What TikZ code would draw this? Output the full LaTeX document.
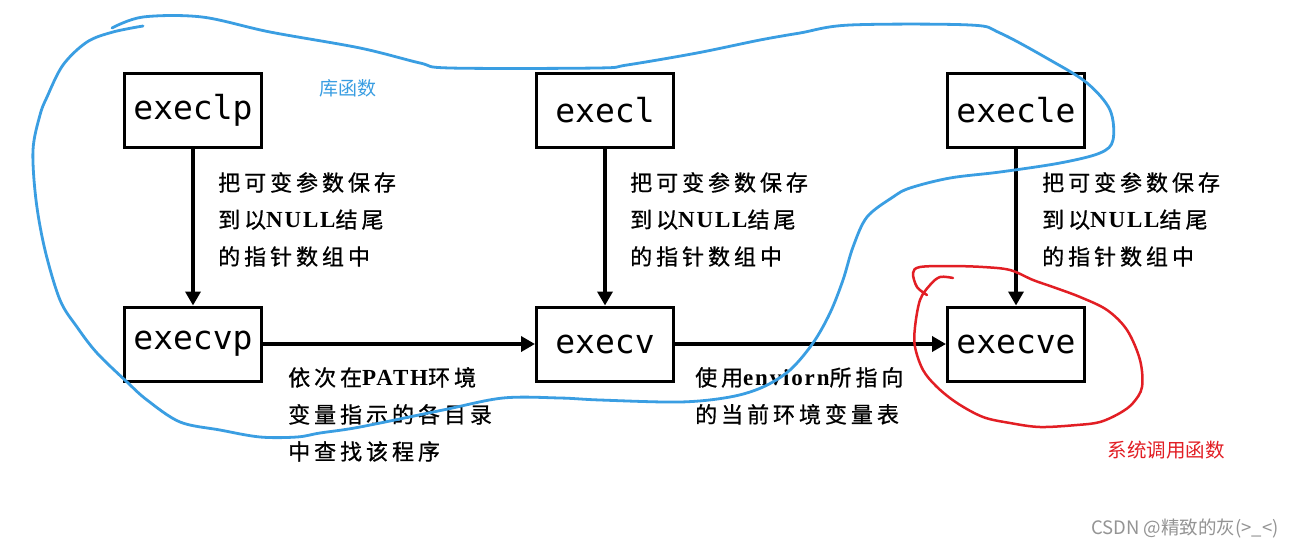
\documentclass[tikz,border=0pt]{standalone}
\usepackage{fontspec}
\usetikzlibrary{arrows.meta}
\newfontfamily\cjk[LetterSpace=18,FakeBold=0.8]{Noto Sans CJK SC}
\newfontfamily\cjkplain{Noto Sans CJK SC}
\newfontfamily\latser[LetterSpace=8]{Liberation Serif}
\newfontfamily\monof{DejaVu Sans Mono}
\newcommand{\lt}[1]{{\latser\bfseries\fontsize{23}{37}\selectfont #1}}
\definecolor{penblue}{RGB}{58,158,226}
\definecolor{penred}{RGB}{226,30,36}
\tikzset{
  fbox/.style={draw, line width=3pt, minimum width=137pt, minimum height=74pt, inner sep=0pt, font=\monof\fontsize{33}{36}\selectfont},
  conn/.style={line width=4pt, -{Triangle[length=14pt,width=15pt]}},
  lbl/.style={anchor=north west, inner sep=0pt, align=left, font=\cjk\fontsize{22}{37}\selectfont},
  bluepen/.style={draw=penblue, line width=2.8pt, line cap=round, line join=round},
  redpen/.style={draw=penred, line width=2.5pt, line cap=round, line join=round}
}
\begin{document}
\begin{tikzpicture}[x=1pt,y=-1pt]
\useasboundingbox (0,0) rectangle (1297,549);
\fill[white] (0,0) rectangle (1297,549);

\node[fbox] (execlp) at (193,110) {execlp};
\node[fbox] (execl)  at (605,110) {execl};
\node[fbox] (execle) at (1016,110) {execle};
\node[fbox] (execvp) at (193,344) {execvp};
\node[fbox] (execv)  at (605,344) {execv};
\node[fbox] (execve) at (1016,344) {execve};

\draw[conn] (execlp.south) -- (execvp.north);
\draw[conn] (execl.south) -- (execv.north);
\draw[conn] (execle.south) -- (execve.north);
\draw[conn] (execvp.east) -- (execv.west);
\draw[conn] (execv.east) -- (execve.west);

\node[lbl] (l1) at (218,172) {把可变参数保存\\到以\lt{NULL}结尾\\的指针数组中};
\node[lbl] (l2) at (630,172) {把可变参数保存\\到以\lt{NULL}结尾\\的指针数组中};
\node[lbl] (l3) at (1042,172) {把可变参数保存\\到以\lt{NULL}结尾\\的指针数组中};
\node[lbl] (l4) at (288,367) {依次在\lt{PATH}环境\\变量指示的各目录\\中查找该程序};
\node[lbl] (l5) at (695,367) {使用\lt{enviorn}所指向\\的当前环境变量表};

\node[text=penblue, font=\cjkplain\fontsize{19}{22}\selectfont] (lib) at (348,88) {库函数};
\node[text=penred, font=\cjkplain\fontsize{19.5}{22}\selectfont] (sys) at (1166,450) {系统调用函数};
\node[text=black!42, font=\cjkplain\fontsize{18.5}{20}\selectfont] (wm) at (1185,528) {CSDN @精致的灰(>\_<)};

% blue freehand loop
\draw[bluepen] plot[smooth, tension=0.55] coordinates {
 (112,28) (143,17) (202,17) (270,32) (360,48) (420,63) (450,68) (597,68) (627,65) (697,53) (760,40)
 (800,33) (850,25) (970,25) (1000,33) (1050,60) (1087,83) (1110,110) (1113,140) (1100,153)
 (1060,163) (1000,172) (950,178) (910,188) (893,197) (867,217) (853,247) (843,280) (830,313)
 (813,343) (790,370) (763,387) (730,397) (680,402) (600,400) (560,398) (503,398) (443,410)
 (360,427) (320,433) (297,437) (260,437) (220,430) (180,422) (147,400) (127,382) (97,353)
 (77,327) (60,300) (45,250) (36,200) (33,150) (40,115) (47,97) (63,65) (87,42) (113,32) (143,26)};

% red freehand loop
\draw[redpen] plot[smooth, tension=0.55] coordinates {
 (953,278) (940,277) (930,285) (920,300) (915,327) (915,347) (923,370) (937,387) (957,403)
 (983,417) (1010,423) (1040,427) (1077,425) (1100,422) (1120,413) (1133,403) (1142,387)
 (1140,360) (1127,330) (1107,310) (1080,297) (1053,287) (1033,280) (1010,270) (983,267)
 (950,266) (920,267) (913,273) (917,287) (927,295)};
\end{tikzpicture}
\end{document}
